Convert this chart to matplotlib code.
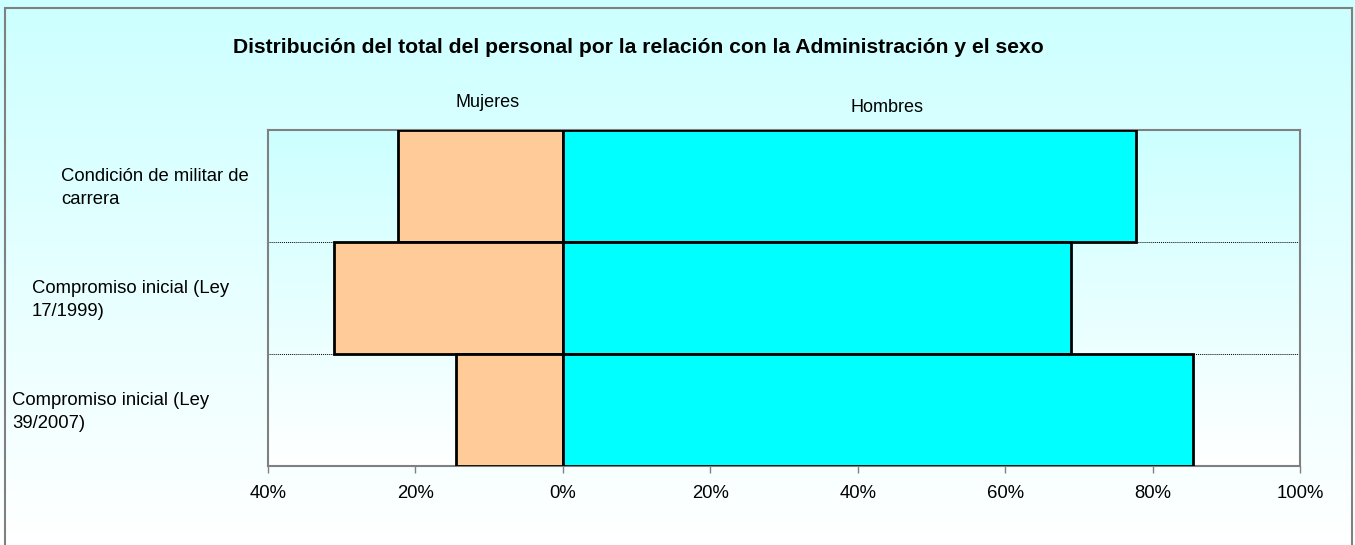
import numpy as np
import matplotlib.pyplot as plt
from matplotlib.patches import Rectangle
from matplotlib.colors import LinearSegmentedColormap
from matplotlib.transforms import blended_transform_factory

plt.rcParams['font.family'] = ['Liberation Sans', 'DejaVu Sans']

categories = ['Condición de militar de\ncarrera',
              'Compromiso inicial (Ley\n17/1999)',
              'Compromiso inicial (Ley\n39/2007)']
mujeres = [22.3, 31.0, 14.5]
hombres = [77.7, 69.0, 85.5]
ticks = [-40, -20, 0, 20, 40, 60, 80, 100]
label_x = [61, 32, 12]  # left edge of each category label, pixels

fig = plt.figure(figsize=(13.55, 5.45), dpi=100)
cmap = LinearSegmentedColormap.from_list('bg', ['#CCFFFF', '#FFFFFF'])
grad = np.linspace(0, 1, 256).reshape(-1, 1)

# background gradient, light cyan to white
bg = fig.add_axes([0, 0, 1, 1], zorder=-10)
bg.imshow(grad, aspect='auto', cmap=cmap, extent=[0, 1, 0, 1], origin='upper')
bg.set_xlim(0, 1)
bg.set_ylim(0, 1)
bg.axis('off')
bg.add_patch(Rectangle((5 / 1355, -0.01), 1347 / 1355, 1 - 8 / 545 + 0.01,
                       fill=False, ec='#808080', lw=1.5, transform=bg.transAxes))

ax = fig.add_axes([268 / 1355, 1 - 466 / 545, 1032 / 1355, 336 / 545])
ax.imshow(grad, aspect='auto', cmap=cmap, extent=[0, 1, 0, 1], origin='upper',
          transform=ax.transAxes, zorder=0)

y = np.arange(len(categories))
m = np.array(mujeres) / 100
h = np.array(hombres) / 100
ax.barh(y, -m, height=1.0, color='#FFCC99', edgecolor='black', lw=2, zorder=3)
ax.barh(y, h, height=1.0, color='#00FFFF', edgecolor='black', lw=2, zorder=3)

for b in y[:-1] + 0.5:
    ax.axhline(b, color='black', ls=(0, (1, 1)), lw=0.7, zorder=1)

ax.set_xlim(-0.4, 1.0)
ax.set_ylim(len(categories) - 0.5, -0.5)
ax.set_aspect('auto')
ax.set_xticks(np.array(ticks) / 100)
ax.set_xticklabels([f'{abs(t)}%' for t in ticks], fontsize=13.3)
ax.set_yticks([])
ax.tick_params(axis='x', direction='out', length=5, width=1, color='#808080', pad=9)
for s in ax.spines.values():
    s.set_color('#808080')
    s.set_linewidth(1.5)

trans = blended_transform_factory(fig.transFigure, ax.transData)
for i, lab in enumerate(categories):
    ax.text(label_x[i] / 1355, i + 0.02, lab, transform=trans, ha='left', va='center',
            fontsize=13.3, linespacing=1.45)

top = blended_transform_factory(ax.transData, ax.transAxes)
ax.text(-0.102, 1.081, 'Mujeres', transform=top, ha='center', va='center', fontsize=13)
ax.text(0.44, 1.066, 'Hombres', transform=top, ha='center', va='center', fontsize=13)

fig.text(638 / 1355, 1 - 47 / 545,
         'Distribución del total del personal por la relación con la Administración y el sexo',
         ha='center', va='center', fontsize=15.2, fontweight='bold')

fig.savefig('out.png', dpi=100)
